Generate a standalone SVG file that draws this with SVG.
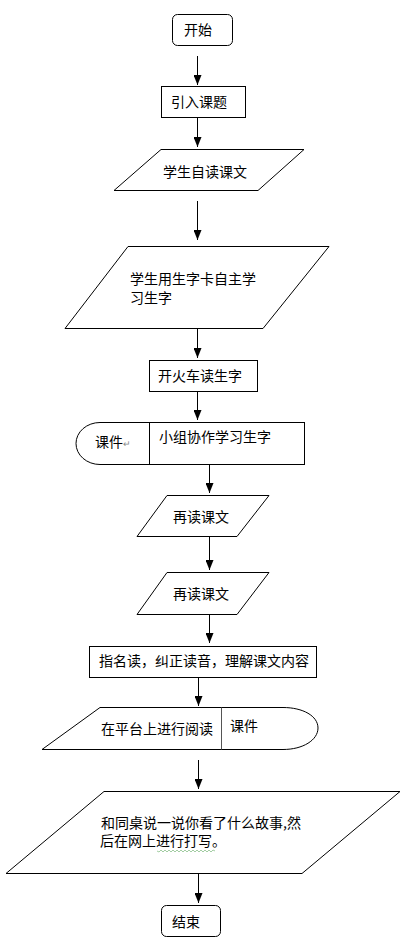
<svg xmlns="http://www.w3.org/2000/svg" width="404" height="952" viewBox="0 0 404 952">
<defs>
<style>
.s{fill:#fff;stroke:#000;stroke-width:1}
.t{font-family:"Noto Sans CJK SC","Noto Sans",sans-serif;font-size:14px;fill:#000}
.c{stroke:#000;stroke-width:1;fill:none}
</style>
<marker id="ah" markerUnits="userSpaceOnUse" markerWidth="8" markerHeight="9" refX="4" refY="9" orient="auto-start-reverse" viewBox="0 0 8 9">
<path d="M0,0 L8,0 L4,9 z" fill="#000" transform="rotate(0)"/>
</marker>
<marker id="arr" markerUnits="userSpaceOnUse" markerWidth="10" markerHeight="8" refX="10" refY="4" orient="auto" viewBox="0 0 10 8">
<path d="M0,0 L10,4 L0,8 z" fill="#000"/>
</marker>
</defs>
<rect width="404" height="952" fill="#fff"/>
<g id="connectors">
<line class="c" x1="197.5" y1="56" x2="197.5" y2="85" marker-end="url(#arr)"/>
<line class="c" x1="197.5" y1="117" x2="197.5" y2="147" marker-end="url(#arr)"/>
<line class="c" x1="197.5" y1="201" x2="197.5" y2="240" marker-end="url(#arr)"/>
<line class="c" x1="197.5" y1="329" x2="197.5" y2="358" marker-end="url(#arr)"/>
<line class="c" x1="197.5" y1="391" x2="197.5" y2="420" marker-end="url(#arr)"/>
<line class="c" x1="209.5" y1="464" x2="209.5" y2="493" marker-end="url(#arr)"/>
<line class="c" x1="209.5" y1="537" x2="209.5" y2="570" marker-end="url(#arr)"/>
<line class="c" x1="209.5" y1="614" x2="209.5" y2="643" marker-end="url(#arr)"/>
<line class="c" x1="198.5" y1="677" x2="198.5" y2="706" marker-end="url(#arr)"/>
<line class="c" x1="198.5" y1="760" x2="198.5" y2="789" marker-end="url(#arr)"/>
<line class="c" x1="198.5" y1="874" x2="198.5" y2="903" marker-end="url(#arr)"/>
</g>
<g id="start">
<rect class="s" x="172.5" y="14.5" width="60" height="31" rx="5"/>
<text class="t" x="184" y="35">开始</text>
</g>
<g id="intro">
<rect class="s" x="161.5" y="86.5" width="84" height="31"/>
<text class="t" x="171" y="107">引入课题</text>
</g>
<g id="selfread">
<polygon class="s" points="161,149.5 304,149.5 258,190.5 114,190.5"/>
<text class="t" x="163" y="177">学生自读课文</text>
</g>
<g id="cards">
<polygon class="s" points="128,246.5 329,246.5 263,328.5 65,328.5"/>
<text class="t" x="130" y="284">学生用生字卡自主学</text>
<text class="t" x="130" y="303">习生字</text>
</g>
<g id="train">
<rect class="s" x="149.5" y="360.5" width="108" height="31"/>
<text class="t" x="158" y="381">开火车读生字</text>
</g>
<g id="group">
<path class="s" d="M149.5,422.5 L100,422.5 A24,21 0 0 0 100,464.5 L149.5,464.5 Z"/>
<rect class="s" x="149.5" y="422.5" width="155" height="42"/>
<text class="t" x="95" y="447">课件<tspan font-size="9" fill="#888">↵</tspan></text>
<text class="t" x="159" y="442">小组协作学习生字</text>
</g>
<g id="reread1">
<polygon class="s" points="167,495.5 269,495.5 237,536.5 137,536.5"/>
<text class="t" x="173" y="522">再读课文</text>
</g>
<g id="reread2">
<polygon class="s" points="167,572.5 269,572.5 237,614.5 137,614.5"/>
<text class="t" x="173" y="599">再读课文</text>
</g>
<g id="named">
<rect class="s" x="89.5" y="646.5" width="227" height="31"/>
<text class="t" x="99" y="666">指名读，纠正读音，理解课文内容</text>
</g>
<g id="platform">
<path class="s" d="M100,707.5 L283,707.5 C303,707.5 318,716 318,728 C318,740 303,749.5 283,749.5 L42,749.5 Z"/>
<line x1="221.5" y1="707.5" x2="221.5" y2="749.5" stroke="#555" stroke-width="1"/>
<text class="t" x="101" y="734">在平台上进行阅读</text>
<text class="t" x="230" y="731">课件</text>
</g>
<g id="tell">
<polygon class="s" points="104,791.5 400,791.5 302,873.5 6,873.5"/>
<text class="t" x="101" y="828">和同桌说一说你看了什么故事,然</text>
<text class="t" x="100" y="846">后在网上进行打写。</text>
<polyline points="157,851 159,852 161,850 163,852 165,850 167,852 169,850 171,852 173,850 175,852 177,850 179,852 181,850 183,852 185,850 187,852 189,850 191,852 193,850 195,852 197,850 199,852 201,850 203,852 205,850 207,852 209,850 211,852 213,850 215,851" fill="none" stroke="#8cc08c" stroke-width="0.8"/>
</g>
<g id="end">
<rect class="s" x="161.5" y="905.5" width="59" height="31" rx="5"/>
<text class="t" x="172" y="927">结束</text>
</g>
</svg>
